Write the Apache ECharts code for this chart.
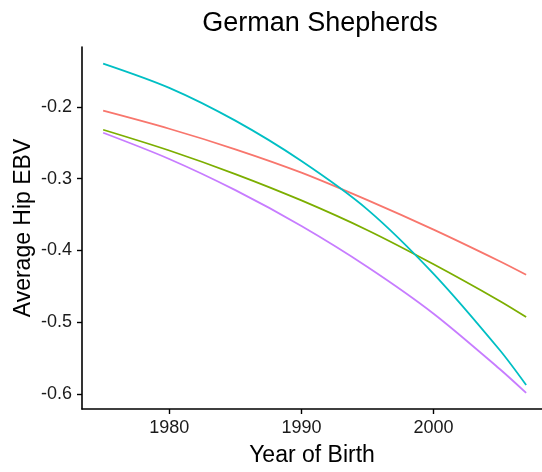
<!DOCTYPE html>
<html>
<head>
<meta charset="utf-8">
<script src="https://cdn.jsdelivr.net/npm/echarts@6/dist/echarts.min.js"></script>
<style>
html,body{margin:0;padding:0;background:#fff;}
#chart{width:542px;height:472px;}
</style>
</head>
<body>
<div id="chart"></div>
<script>
var years = [1975, 1980, 1985, 1990, 1995, 2000, 2005, 2007];
var seriesRed    = [-0.2055, -0.2306, -0.2592, -0.2917, -0.3300, -0.3711, -0.4151, -0.4339];
var seriesGreen  = [-0.2320, -0.2609, -0.2937, -0.3304, -0.3719, -0.4193, -0.4703, -0.4927];
var seriesCyan   = [-0.1398, -0.1736, -0.2193, -0.2755, -0.3431, -0.4326, -0.5386, -0.5873];
var seriesPurple = [-0.2362, -0.2727, -0.3161, -0.3660, -0.4230, -0.4880, -0.5650, -0.5983];
var xTicks = [1980, 1990, 2000];
var yTicks = [-0.6, -0.5, -0.4, -0.3, -0.2];

function pairs(vals){ return years.map(function(y,i){ return [y, vals[i]]; }); }

var font = 'Liberation Sans, Arial, Helvetica, sans-serif';
var chart = echarts.init(document.getElementById('chart'), null, {renderer:'canvas'});
function mk(name, vals, color){
  return {name:name, type:'line', data:pairs(vals), smooth:0.3, showSymbol:false,
    lineStyle:{color:color, width:1.8}, itemStyle:{color:color}, animation:false};
}
chart.setOption({
  animation:false,
  backgroundColor:'#ffffff',
  title:{text:'German Shepherds', left:315, top:5, textAlign:'center',
    textStyle:{fontFamily:font, fontSize:27, fontWeight:'normal', color:'#000'}},
  grid:{left:82, right:0, top:47, bottom:59, containLabel:false},
  xAxis:{type:'value', min:1973.4, max:2008.2,
    name:'Year of Birth', nameLocation:'middle', nameGap:35, nameMoveOverlap:false,
    nameTextStyle:{fontFamily:font, fontSize:23, color:'#000'},
    axisLine:{lineStyle:{color:'#000', width:1.6}},
    axisTick:{show:true, length:5, lineStyle:{color:'#000', width:1.4}, customValues:xTicks},
    axisLabel:{fontFamily:font, fontSize:18, color:'#1a1a1a', margin:10, customValues:xTicks,
      formatter:function(v){ return String(v); }},
    splitLine:{show:false}},
  yAxis:{type:'value', min:-0.6207, max:-0.1168,
    name:'Average Hip EBV', nameLocation:'middle', nameGap:47, nameMoveOverlap:false,
    nameTextStyle:{fontFamily:font, fontSize:23, color:'#000'},
    axisLine:{show:true, lineStyle:{color:'#000', width:1.6}},
    axisTick:{show:true, length:5, lineStyle:{color:'#000', width:1.4}, customValues:yTicks},
    axisLabel:{fontFamily:font, fontSize:18, color:'#1a1a1a', margin:10, customValues:yTicks,
      formatter:function(v){ return v.toFixed(1); }},
    splitLine:{show:false}},
  series:[
    mk('A', seriesRed, '#F8766D'),
    mk('B', seriesGreen, '#7CAE00'),
    mk('C', seriesCyan, '#00BFC4'),
    mk('D', seriesPurple, '#C77CFF')
  ]
});
</script>
</body>
</html>
